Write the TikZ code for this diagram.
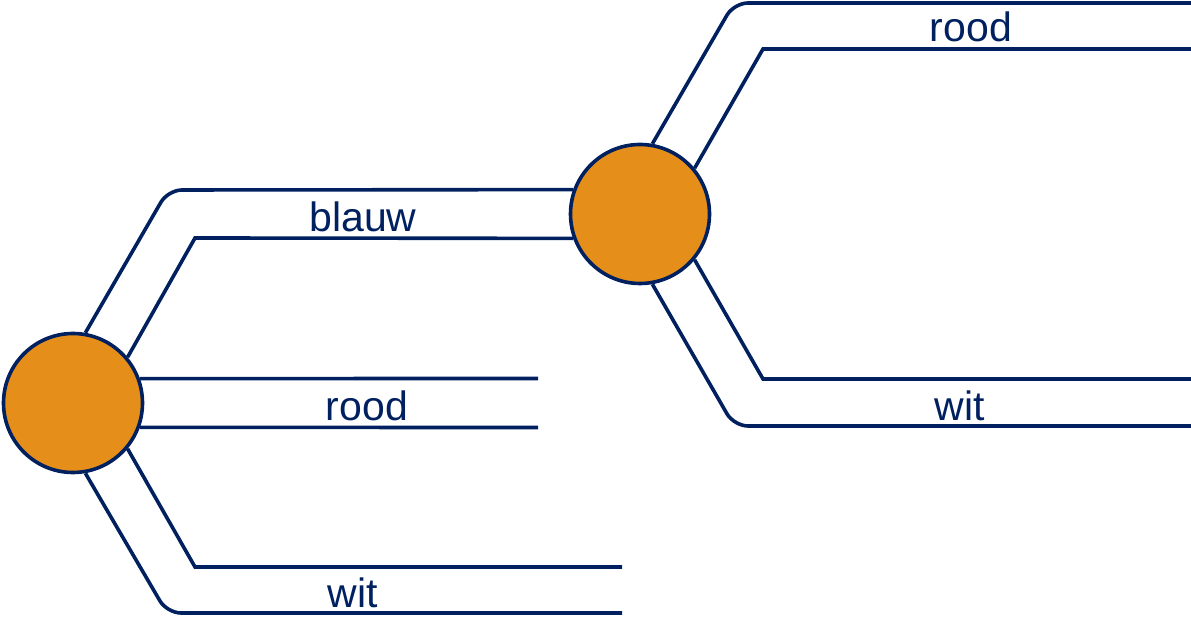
\documentclass[tikz,border=0pt]{standalone}
\usepackage{fontspec}
\setmainfont{Liberation Sans}
\usepackage{tikz}
\usepackage{xcolor}
\definecolor{donkerblauw}{HTML}{002060}
\definecolor{oranje}{HTML}{E58E1A}

\begin{document}
\begin{tikzpicture}[x=1pt,y=1pt,
  knoop/.style={circle,draw=donkerblauw,fill=oranje,line width=3.6pt,minimum size=139pt,inner sep=0pt},
  kant/.style={draw=donkerblauw,line width=3.6pt},
  tekst/.style={text=donkerblauw,anchor=base,font=\fontsize{41}{49}\selectfont}]

\useasboundingbox (0,0) rectangle (1191,618);

\node(a) at (73,215)[knoop]{};
\node(b) at (640,404)[knoop]{};

% blauw
\draw[kant,rounded corners=14pt] (a.80) -- (168,428) -- (b.160);
\draw[kant] (a.40) -- (195,380) -- (b.200);
% rood, eerste keer
\draw[kant] (a.20) -- (538,239.5);
\draw[kant] (a.-20) -- (538,190.5);
% wit, eerste keer
\draw[kant] (a.-40) -- (195,51) -- (622,51);
\draw[kant,rounded corners=14pt] (a.-80) -- (167,5) -- (622,5);
% rood, tweede keer
\draw[kant,rounded corners=14pt] (b.80) -- (734,615) -- (1191,615);
\draw[kant] (b.40) -- (763,569) -- (1191,569);
% wit, tweede keer
\draw[kant] (b.-40) -- (763,239) -- (1191,239);
\draw[kant,rounded corners=14pt] (b.-80) -- (734,192) -- (1191,192);

\node(h1) at (363,386)[tekst]{blauw};
\node(h2) at (367,197)[tekst]{rood};
\node(h3) at (353,10)[tekst]{wit};
\node(h4) at (971,576)[tekst]{rood};
\node(h5) at (960,197)[tekst]{wit};

\end{tikzpicture}
\end{document}
